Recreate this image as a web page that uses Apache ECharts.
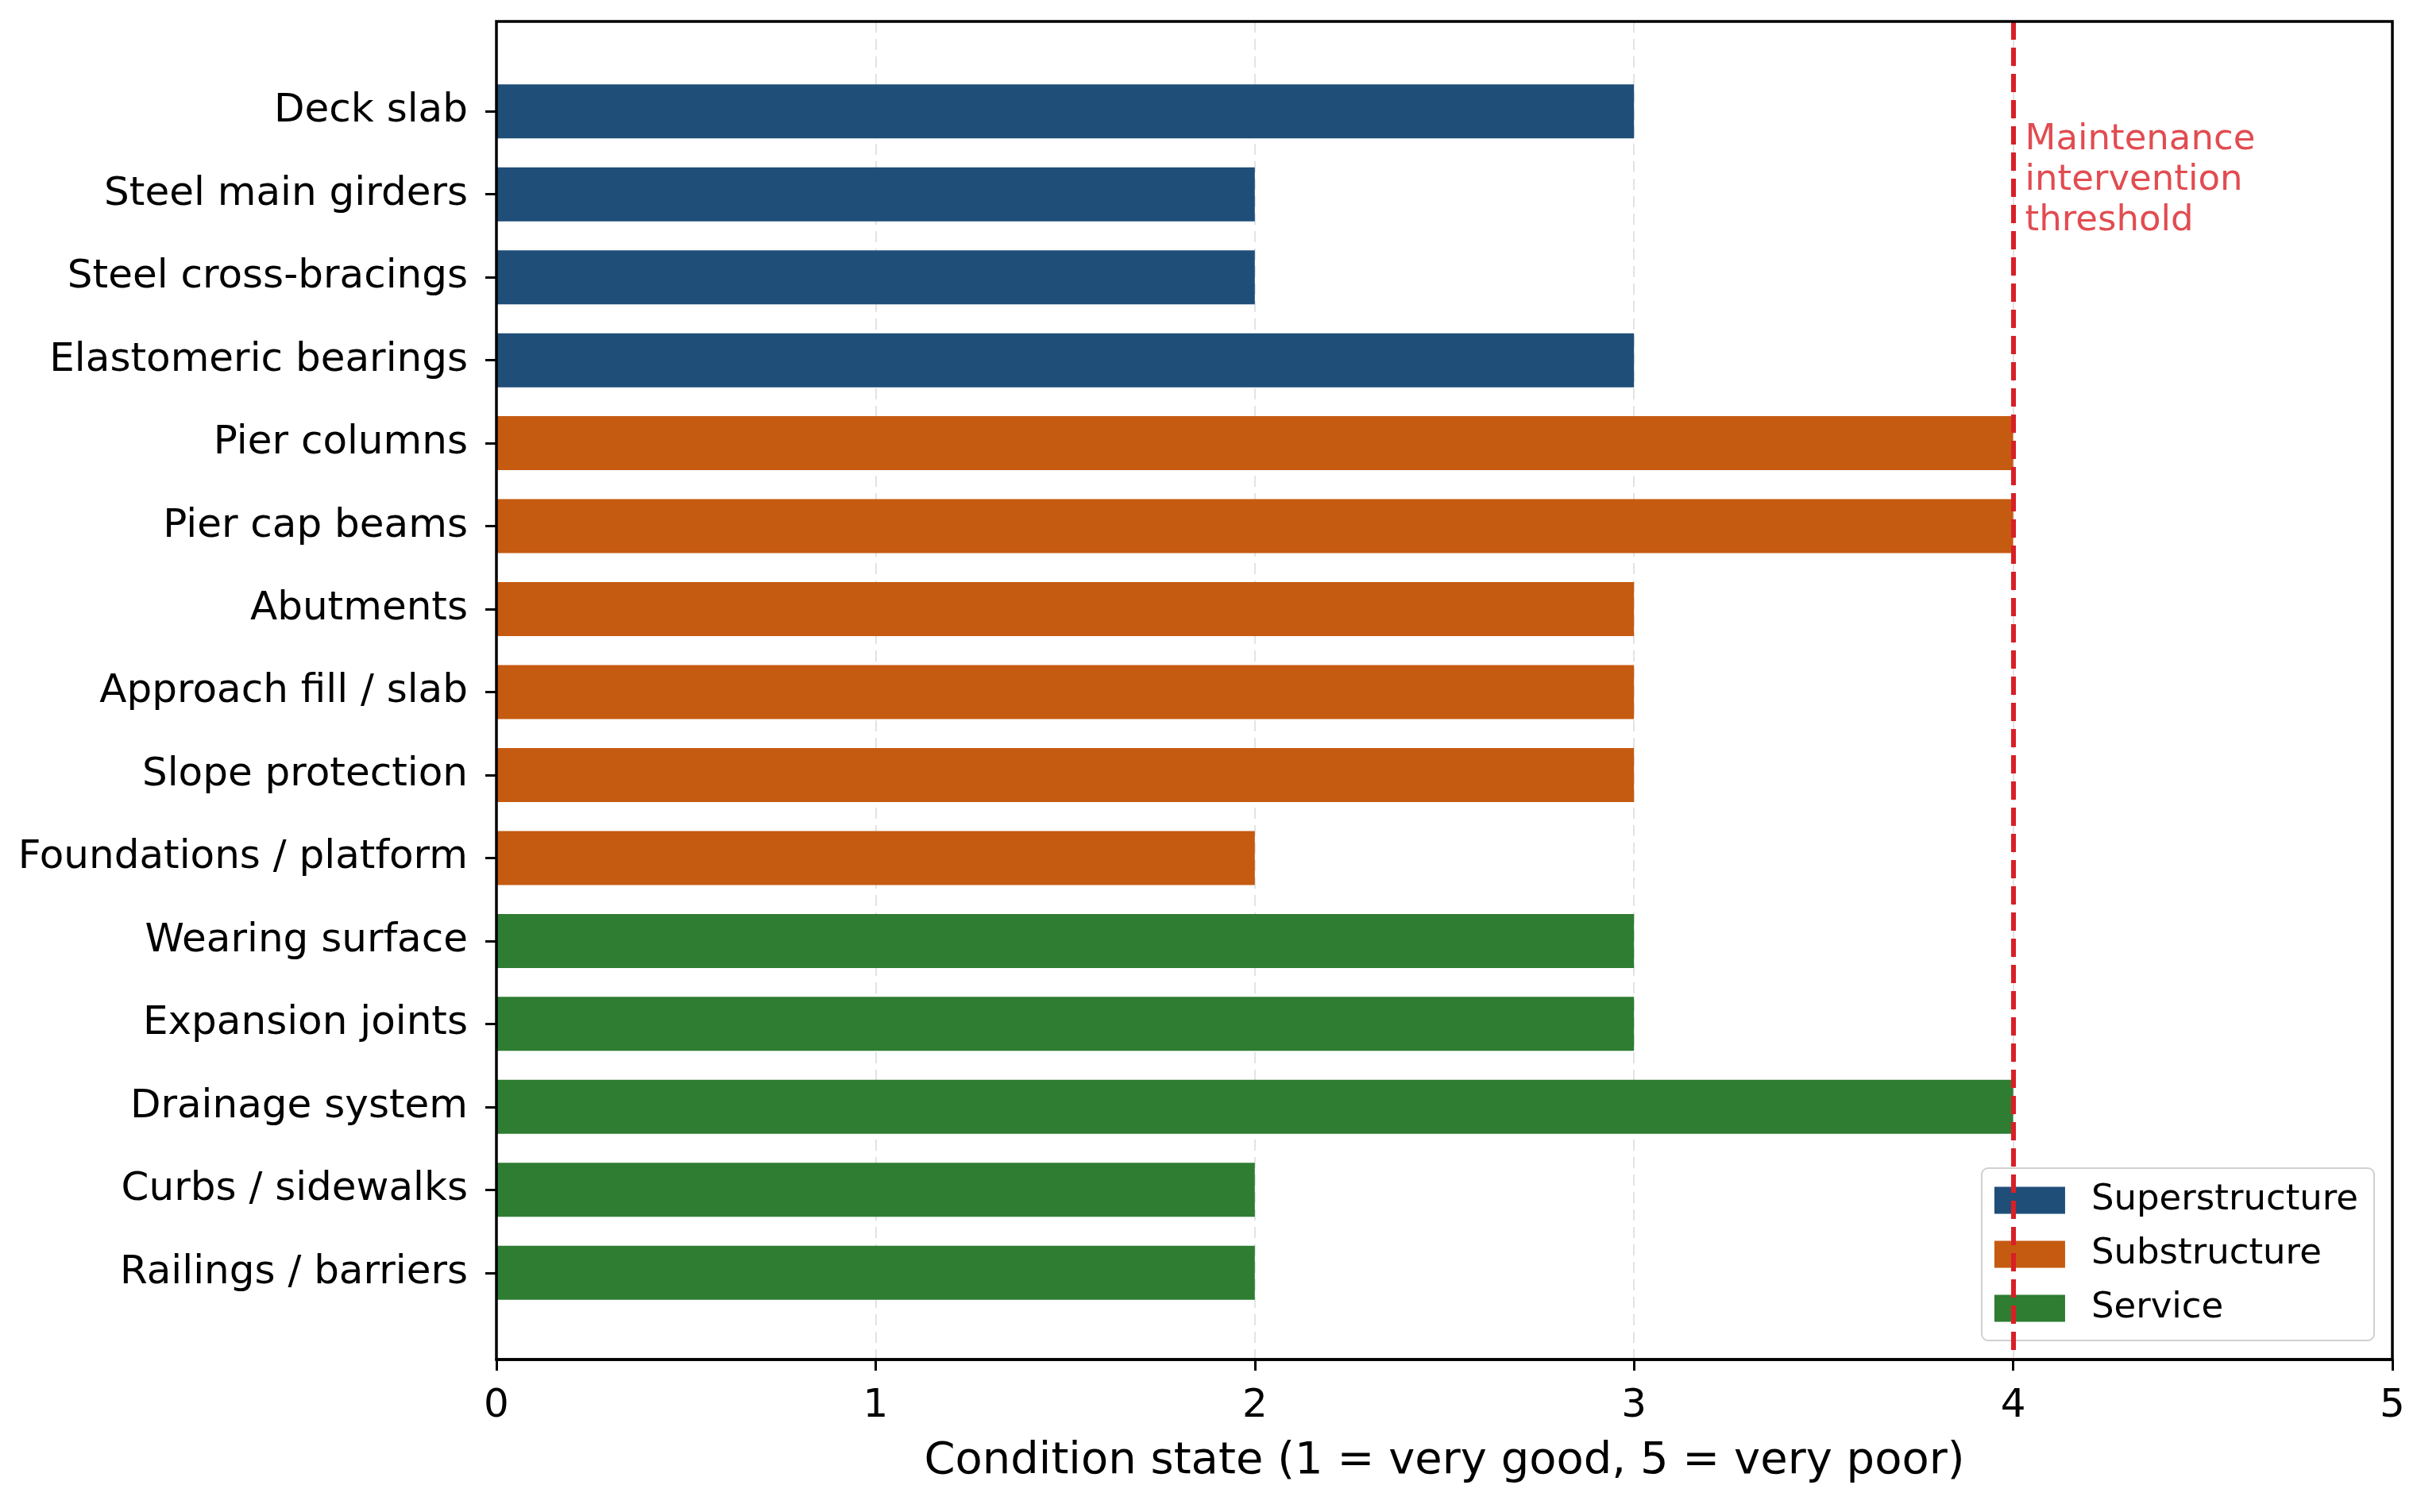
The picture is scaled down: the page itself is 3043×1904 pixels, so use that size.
<!DOCTYPE html>
<html>
<head>
<meta charset="utf-8">
<script src="https://cdn.jsdelivr.net/npm/echarts@6.0.0/dist/echarts.min.js"></script>
<style>
html,body{margin:0;padding:0;background:#fff;}
#chart{width:3043px;height:1904px;}
</style>
</head>
<body>
<div id="chart"></div>
<script>
const categories = [
  'Deck slab', 'Steel main girders', 'Steel cross-bracings', 'Elastomeric bearings',
  'Pier columns', 'Pier cap beams', 'Abutments', 'Approach fill / slab', 'Slope protection',
  'Foundations / platform', 'Wearing surface', 'Expansion joints', 'Drainage system',
  'Curbs / sidewalks', 'Railings / barriers'
];
const groups = [
  'Superstructure', 'Superstructure', 'Superstructure', 'Superstructure',
  'Substructure', 'Substructure', 'Substructure', 'Substructure', 'Substructure', 'Substructure',
  'Service', 'Service', 'Service', 'Service', 'Service'
];
const conditionValues = [3, 2, 2, 3, 4, 4, 3, 3, 3, 2, 3, 3, 4, 2, 2];
const groupNames = ['Superstructure', 'Substructure', 'Service'];
const groupColors = ['#1f4e79', '#c55a11', '#2e7d32'];
const xTicks = [0, 1, 2, 3, 4, 5];
const thresholdValue = 4;
const thresholdText = 'Maintenance\nintervention\nthreshold';
const xAxisTitle = 'Condition state (1 = very good, 5 = very poor)';

const FONT = 'DejaVu Sans';
const chart = echarts.init(document.getElementById('chart'), null, {renderer: 'canvas'});

const barSeries = groupNames.map((g, gi) => ({
  name: g,
  type: 'bar',
  xAxisIndex: 1,
  yAxisIndex: 1,
  barWidth: 68,
  barGap: '-100%',
  itemStyle: {color: groupColors[gi]},
  data: conditionValues.map((v, i) => groups[i] === g ? v : '-'),
  z: 3
}));

const option = {
  backgroundColor: '#fff',
  animation: false,
  textStyle: {fontFamily: FONT},
  grid: [
    {left: 625, right: 31, top: 27, bottom: 192, show: true, borderColor: '#000', borderWidth: 3.5, backgroundColor: 'transparent', z: 10},
    {left: 625, right: 31, top: 88, bottom: 249}
  ],
  xAxis: [
    {
      type: 'value', gridIndex: 0, min: xTicks[0], max: xTicks[xTicks.length - 1], interval: 1,
      axisLine: {show: true, onZero: false, lineStyle: {color: '#000', width: 3.5}},
      axisTick: {show: true, length: 14, lineStyle: {color: '#000', width: 3}},
      axisLabel: {fontSize: 50, color: '#000', margin: 34, fontFamily: FONT},
      splitLine: {show: true, showMinLine: false, showMaxLine: false, lineStyle: {color: '#e3e3e3', width: 2, type: [14, 8]}},
      name: xAxisTitle, nameLocation: 'middle', nameGap: 100,
      nameTextStyle: {fontSize: 56, color: '#000', fontFamily: FONT}
    },
    {type: 'value', gridIndex: 1, min: 0, max: 5, show: false}
  ],
  yAxis: [
    {type: 'value', gridIndex: 0, min: -1.06, max: 15.06, inverse: true, show: false},
    {
      type: 'category', gridIndex: 1, data: categories, inverse: true,
      axisLine: {show: false},
      axisTick: {show: true, alignWithLabel: true, length: 14, lineStyle: {color: '#000', width: 3}},
      axisLabel: {fontSize: 50, color: '#000', margin: 36, fontFamily: FONT},
      splitLine: {show: false}
    }
  ],
  legend: {
    data: groupNames,
    orient: 'vertical',
    right: 54,
    bottom: 216,
    icon: 'rect',
    itemWidth: 89,
    itemHeight: 34,
    itemGap: 23,
    backgroundColor: 'rgba(255,255,255,0.85)',
    borderColor: '#d0d0d0',
    borderWidth: 2,
    borderRadius: 8,
    padding: [18, 20, 18, 16],
    textStyle: {fontSize: 45, color: '#000', fontFamily: FONT, padding: [0, 0, 0, 28]}
  },
  series: [
    ...barSeries,
    {
      type: 'line',
      xAxisIndex: 0,
      yAxisIndex: 0,
      data: [],
      silent: true,
      z: 5,
      markLine: {
        silent: true,
        symbol: ['none', 'none'],
        label: {show: false},
        lineStyle: {color: '#d91f26', width: 6, type: [23, 10]},
        data: [{xAxis: thresholdValue}]
      }
    },
    {
      type: 'scatter',
      xAxisIndex: 0,
      yAxisIndex: 0,
      symbolSize: 0,
      silent: true,
      z: 6,
      data: [[thresholdValue, 0.12]],
      label: {
        show: true,
        position: [15, 0],
        align: 'left',
        verticalAlign: 'top',
        formatter: thresholdText,
        fontSize: 45,
        lineHeight: 51,
        color: '#d91f26',
        fontFamily: FONT
      }
    }
  ]
};
chart.setOption(option);
</script>
</body>
</html>
